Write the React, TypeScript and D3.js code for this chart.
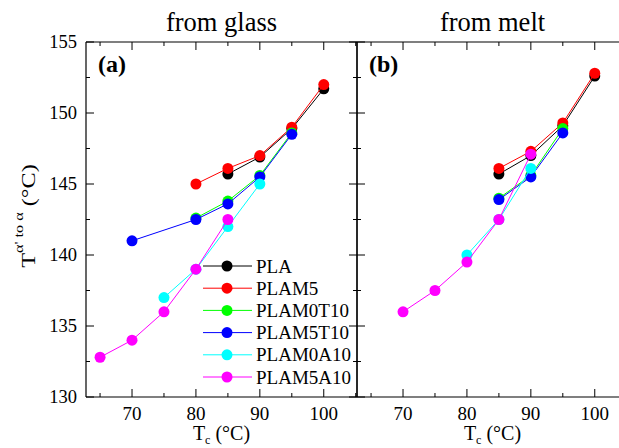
import React from "react";
import * as d3 from "d3";

// Crystallization temperature Tc (°C) and transition temperature T(α'→α) (°C)
const seriesNames = ["PLA", "PLAM5", "PLAM0T10", "PLAM5T10", "PLAM0A10", "PLAM5A10"];
const seriesColors = ["#000000", "#ff0000", "#00ff00", "#0000ff", "#00ffff", "#ff00ff"];

// (a) from glass
const glassPLA = [[85, 145.7], [90, 146.9], [95, 148.9], [100, 151.7]];
const glassPLAM5 = [[80, 145.0], [85, 146.1], [90, 147.0], [95, 149.0], [100, 152.0]];
const glassPLAM0T10 = [[80, 142.6], [85, 143.8], [90, 145.6], [95, 148.6]];
const glassPLAM5T10 = [[70, 141.0], [80, 142.5], [85, 143.6], [90, 145.5], [95, 148.5]];
const glassPLAM0A10 = [[75, 137.0], [80, 139.0], [85, 142.0], [90, 145.0]];
const glassPLAM5A10 = [[65, 132.8], [70, 134.0], [75, 136.0], [80, 139.0], [85, 142.5]];

// (b) from melt
const meltPLA = [[85, 145.7], [90, 147.0], [95, 149.1], [100, 152.6]];
const meltPLAM5 = [[85, 146.1], [90, 147.3], [95, 149.3], [100, 152.8]];
const meltPLAM0T10 = [[85, 144.0], [90, 145.6], [95, 148.9]];
const meltPLAM5T10 = [[85, 143.9], [90, 145.5], [95, 148.6]];
const meltPLAM0A10 = [[80, 140.0], [85, 142.5], [90, 146.1]];
const meltPLAM5A10 = [[70, 136.0], [75, 137.5], [80, 139.5], [85, 142.5], [90, 147.1]];

const xTickLabels = [70, 80, 90, 100];
const yTickLabels = [130, 135, 140, 145, 150, 155];

const glassSeries = [glassPLA, glassPLAM5, glassPLAM0T10, glassPLAM5T10, glassPLAM0A10, glassPLAM5A10];
const meltSeries = [meltPLA, meltPLAM5, meltPLAM0T10, meltPLAM5T10, meltPLAM0A10, meltPLAM5A10];

const FONT = "'Liberation Serif', 'Times New Roman', Times, serif";
const TOP = 42;
const BOTTOM = 397;
const X_DOMAIN: [number, number] = [62.8, 105.2];

const y = d3.scaleLinear().domain([130, 155]).range([BOTTOM, TOP]);

function Panel({ x0, x1, data, title, tag, leftLabels, rightTicks }: any) {
  const x = d3.scaleLinear().domain(X_DOMAIN).range([x0, x1]);
  const line = d3
    .line<number[]>()
    .x((d) => x(d[0]))
    .y((d) => y(d[1]));
  const xMajor = d3.range(70, 106, 10);
  const xMinor = d3.range(65, 106, 10);
  const yMajor = d3.range(130, 156, 5);
  const yMinor = d3.range(132.5, 155, 5);
  const midX = (x0 + x1) / 2;
  const clipId = `clip-${tag.replace(/[()]/g, "")}`;
  return (
    <g>
      <defs>
        <clipPath id={clipId}>
          <rect x={x0} y={TOP - 8} width={x1 - x0} height={BOTTOM - TOP + 16} />
        </clipPath>
      </defs>
      {/* frame */}
      <line x1={x0} x2={x1} y1={TOP} y2={TOP} stroke="#000" strokeWidth={1.2} />
      <line x1={x0} x2={x1} y1={BOTTOM} y2={BOTTOM} stroke="#000" strokeWidth={1.2} />
      <line x1={x0} x2={x0} y1={TOP} y2={BOTTOM} stroke="#000" strokeWidth={1.2} />
      {rightTicks && <line x1={x1} x2={x1} y1={TOP} y2={BOTTOM} stroke="#000" strokeWidth={1.2} />}
      {/* x ticks, inward on top and bottom */}
      {xMajor.map((t) => (
        <g key={`xM${t}`}>
          <line x1={x(t)} x2={x(t)} y1={BOTTOM} y2={BOTTOM - 8} stroke="#000" />
          <line x1={x(t)} x2={x(t)} y1={TOP} y2={TOP + 8} stroke="#000" />
        </g>
      ))}
      {xMinor.map((t) => (
        <g key={`xm${t}`}>
          <line x1={x(t)} x2={x(t)} y1={BOTTOM} y2={BOTTOM - 4} stroke="#000" />
          <line x1={x(t)} x2={x(t)} y1={TOP} y2={TOP + 4} stroke="#000" />
        </g>
      ))}
      {xTickLabels.map((t) => (
        <text key={`xl${t}`} x={x(t)} y={BOTTOM + 23} textAnchor="middle" fontSize={19} fontFamily={FONT}>
          {t}
        </text>
      ))}
      {/* y ticks, inward */}
      {yMajor.map((t) => (
        <g key={`yM${t}`}>
          <line x1={x0} x2={x0 + 8} y1={y(t)} y2={y(t)} stroke="#000" />
          {rightTicks && <line x1={x1} x2={x1 - 8} y1={y(t)} y2={y(t)} stroke="#000" />}
        </g>
      ))}
      {yMinor.map((t) => (
        <g key={`ym${t}`}>
          <line x1={x0} x2={x0 + 4} y1={y(t)} y2={y(t)} stroke="#000" />
          {rightTicks && <line x1={x1} x2={x1 - 4} y1={y(t)} y2={y(t)} stroke="#000" />}
        </g>
      ))}
      {leftLabels &&
        yTickLabels.map((t) => (
          <text key={`yl${t}`} x={x0 - 9} y={y(t) + 6.3} textAnchor="end" fontSize={18.5} fontFamily={FONT}>
            {t}
          </text>
        ))}
      {/* series */}
      <g clipPath={`url(#${clipId})`}>
        {data.map((s: number[][], i: number) => (
          <g key={seriesNames[i]}>
            <path d={line(s) || ""} fill="none" stroke={seriesColors[i]} strokeWidth={1} />
            {s.map((d, j) => (
              <circle key={j} cx={x(d[0])} cy={y(d[1])} r={5.5} fill={seriesColors[i]} />
            ))}
          </g>
        ))}
      </g>
      <text x={x0 + 12} y={TOP + 30} fontSize={24} fontWeight="bold" fontFamily={FONT}>
        {tag}
      </text>
      <text x={midX} y={31} textAnchor="middle" fontSize={26.5} fontFamily={FONT}>
        {title}
      </text>
      <text x={midX} y={440} textAnchor="middle" fontSize={20} fontFamily={FONT}>
        T<tspan fontSize={12} dy={3.5}>c</tspan>
        <tspan dy={-3.5}> (°C)</tspan>
      </text>
    </g>
  );
}

export default function App() {
  const legendY0 = 266;
  const legendStep = 22.2;
  return (
    <svg width={619} height={448} style={{ display: "block", position: "absolute", left: 0, top: 0 }}>
      <rect width={619} height={448} fill="#fff" />
      <Panel x0={86} x1={357} data={glassSeries} title="from glass" tag="(a)" leftLabels rightTicks />
      <Panel x0={357} x1={628} data={meltSeries} title="from melt" tag="(b)" />
      {/* legend */}
      {seriesNames.map((n, i) => (
        <g key={n}>
          <line x1={203} x2={252} y1={legendY0 + i * legendStep} y2={legendY0 + i * legendStep} stroke={seriesColors[i]} strokeWidth={1} />
          <circle cx={227} cy={legendY0 + i * legendStep} r={5.5} fill={seriesColors[i]} />
          <text x={256} y={legendY0 + i * legendStep + 6.5} fontSize={19} fontFamily={FONT}>
            {n}
          </text>
        </g>
      ))}
      {/* y-axis title */}
      <text transform="translate(35,216) rotate(-90) scale(1.35,1)" textAnchor="middle" fontSize={18} fontFamily={FONT}>
        T<tspan fontSize={12} dy={-12}>α' to α</tspan>
        <tspan dy={12}> (°C)</tspan>
      </text>
    </svg>
  );
}
